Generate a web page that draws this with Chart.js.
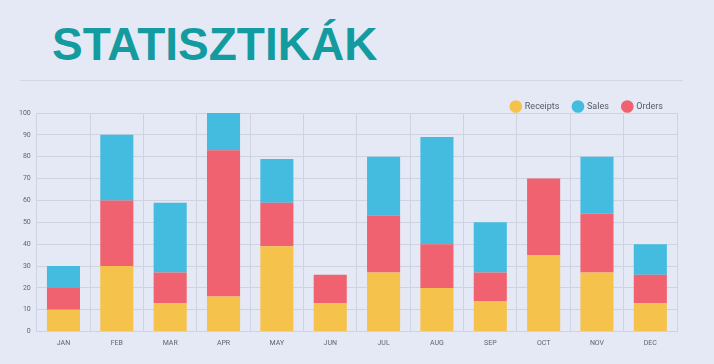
<!DOCTYPE html>
<html>
<head>
<meta charset="utf-8">
<script src="https://cdn.jsdelivr.net/npm/chart.js@4/dist/chart.umd.min.js"></script>
<style>
  html, body { margin: 0; padding: 0; }
  body { width: 714px; height: 364px; background: #e5e9f5; position: relative; overflow: hidden; }
  #cim {
    position: absolute; left: 52px; top: 21px; margin: 0;
    font: bold 46px "Liberation Sans", Arial, sans-serif; line-height: 46px;
    color: #139ba0; letter-spacing: 0;
  }
  #vonal { position: absolute; left: 20px; top: 80px; width: 663px; height: 0; border-top: 1px solid #d3d7e3; }
  #doboz { position: absolute; left: 0; top: 0; width: 714px; height: 364px; }
</style>
</head>
<body>
<h1 id="cim">STATISZTIKÁK</h1>
<div id="vonal"></div>
<div id="doboz"><canvas id="grafikon"></canvas></div>
<script>
const honapok = ["JAN", "FEB", "MAR", "APR", "MAY", "JUN", "JUL", "AUG", "SEP", "OCT", "NOV", "DEC"];
const receipts = [10, 30, 13, 16, 39, 13, 27, 20, 14, 35, 27, 13];
const orders = [10, 30, 14, 67, 20, 13, 26, 20, 13, 35, 27, 13];
const sales = [10, 30, 32, 17, 20, 0, 27, 49, 23, 0, 26, 14];
const legendSorrend = ["Receipts", "Sales", "Orders"];

// a jelmagyarazat es a rajzterulet kozti res szukitese
const legendSzukites = {
  id: 'legendSzukites',
  beforeInit(chart) {
    const eredetiFit = chart.legend.fit;
    chart.legend.fit = function () {
      eredetiFit.bind(chart.legend)();
      this.height -= 8;
    };
  }
};

const grafikon = document.getElementById("grafikon");

new Chart(grafikon, {
  type: 'bar',
  data: {
    labels: honapok,
    datasets: [
      { label: 'Receipts', data: receipts, backgroundColor: '#f5c24b' },
      { label: 'Orders', data: orders, backgroundColor: '#f0626f' },
      { label: 'Sales', data: sales, backgroundColor: '#43bce0' }
    ]
  },
  plugins: [legendSzukites],
  options: {
    responsive: true,
    maintainAspectRatio: false,
    animation: false,
    datasets: { bar: { barPercentage: 0.62, categoryPercentage: 1 } },
    layout: { padding: { top: 88, left: 13, right: 37, bottom: 10 } },
    plugins: {
      legend: {
        position: 'top',
        align: 'end',
        labels: {
          usePointStyle: true,
          pointStyle: 'circle',
          boxWidth: 9,
          boxHeight: 9,
          padding: 14,
          color: '#555a66',
          font: { family: 'Roboto', size: 9 },
          sort: (a, b) => legendSorrend.indexOf(a.text) - legendSorrend.indexOf(b.text)
        }
      },
      tooltip: { enabled: false }
    },
    scales: {
      x: {
        stacked: true,
        grid: { color: '#cfd3e1', drawTicks: false },
        border: { color: '#cfd3e1' },
        ticks: { color: '#60646e', font: { family: 'Roboto', size: 7 }, padding: 7 }
      },
      y: {
        stacked: true,
        min: 0,
        max: 100,
        grid: { color: '#cfd3e1', drawTicks: false },
        border: { color: '#cfd3e1' },
        ticks: { stepSize: 10, color: '#60646e', font: { family: 'Roboto', size: 7 }, padding: 6 }
      }
    }
  }
});
</script>
</body>
</html>
